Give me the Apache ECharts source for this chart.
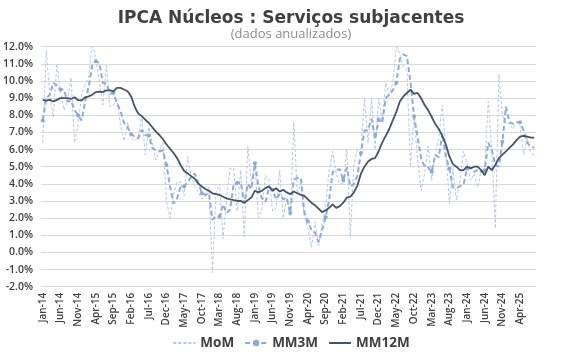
<!DOCTYPE html>
<html>
<head>
<meta charset="utf-8">
<script src="https://cdn.jsdelivr.net/npm/echarts@6/dist/echarts.min.js"></script>
<style>html,body{margin:0;padding:0;background:#fff;}#c{width:582px;height:363px;}</style>
</head>
<body>
<div id="c"></div>
<script>
// Month labels Jan-14 .. Aug-25
const monthNames = ['Jan','Feb','Mar','Apr','May','Jun','Jul','Aug','Sep','Oct','Nov','Dec'];
const firstYear = 14, lastYear = 25, lastMonthIndex = 7;
const categories = [];
for (let y = firstYear; y <= lastYear; y++) {
  for (let m = 0; m < 12; m++) {
    if (y === lastYear && m > lastMonthIndex) break;
    categories.push(monthNames[m] + '-' + y);
  }
}

const mom = [
  6.4, 11.8, 9.2, 7.9, 11.0, 9.4, 8.3, 8.9, 10.2, 6.4, 7.5, 9.2,
  9.8, 10.2, 12.3, 11.3, 10.0, 8.6, 10.9, 8.5, 8.6, 8.9, 7.4, 6.5,
  7.6, 6.7, 6.5, 6.7, 8.0, 5.7, 7.3, 6.4, 5.4, 6.0, 6.4, 3.0,
  2.0, 3.4, 4.1, 4.1, 3.3, 5.6, 4.4, 3.9, 3.5, 3.1, 3.3, 3.8,
  -1.2, 3.5, 4.0, 0.8, 3.2, 4.9, 4.9, 2.4, 4.8, 0.9, 6.2, 4.0,
  5.2, 2.0, 2.5, 4.5, 4.3, 2.4, 2.6, 4.8, 2.0, 3.2, 2.1, 7.6,
  3.4, 4.0, 2.1, 1.4, 0.3, 1.8, 0.4, 1.6, 2.7, 4.8, 5.9, 4.6,
  4.0, 4.0, 6.0, 0.9, 5.2, 6.0, 6.0, 9.0, 6.4, 9.0, 6.0, 9.0,
  7.6, 9.9, 9.2, 9.9, 12.0, 11.6, 10.8, 10.6, 5.0, 8.0, 5.5, 3.6,
  4.6, 6.2, 4.2, 5.8, 6.7, 8.6, 6.0, 2.85, 4.9, 3.05, 4.2, 5.9,
  5.2, 4.2, 4.6, 3.8, 4.8, 5.0, 8.8, 6.0, 1.4, 10.4, 8.0, 7.5,
  7.5, 7.2, 7.6, 7.4, 5.7, 6.7, 5.8, 5.7
];

const mm3m = [
  7.7, 9.0, 9.2, 9.9, 9.75, 9.5, 9.5, 8.8, 8.85, 8.3, 8.0, 7.7,
  8.8, 9.65, 10.9, 11.15, 11.05, 9.9, 9.85, 9.25, 9.3, 8.7, 8.25, 7.55,
  7.3, 6.9, 6.75, 6.65, 7.15, 6.85, 6.8, 6.1, 5.95, 5.9, 5.95, 5.1,
  3.85, 2.85, 3.15, 3.85, 3.85, 4.1, 4.4, 4.6, 4.05, 3.45, 3.35, 3.45,
  1.9, 2.1, 2.1, 2.8, 2.3, 2.5, 4.0, 4.05, 4.1, 2.85, 4.0, 3.7,
  5.2, 3.85, 3.15, 2.95, 3.8, 3.65, 3.1, 3.4, 3.1, 3.2, 2.3, 4.25,
  4.35, 4.35, 2.3, 1.8, 1.3, 1.15, 0.6, 1.3, 2.05, 3.05, 4.7, 4.8,
  4.85, 4.2, 4.95, 3.85, 4.0, 4.5, 5.8, 7.1, 7.15, 7.8, 6.6, 7.75,
  7.55, 9.0, 9.2, 9.45, 9.9, 11.3, 11.55, 11.45, 9.95, 7.95, 6.75, 5.5,
  5.0, 4.95, 4.7, 5.7, 5.55, 6.95, 5.6, 4.9, 3.8, 3.75, 3.85, 3.95,
  4.9, 4.95, 4.7, 4.8, 4.7, 4.8, 6.4, 5.97, 5.1, 5.0, 6.46, 8.5,
  7.6, 7.5, 7.6, 7.6, 7.1, 6.4, 6.2, 6.1
];

const mm12m = [
  8.9, 8.85, 8.9, 8.8, 8.9, 9.0, 9.0, 9.0, 8.95, 9.05, 8.88, 8.87,
  9.05, 9.1, 9.2, 9.35, 9.38, 9.35, 9.45, 9.45, 9.4, 9.6, 9.6, 9.5,
  9.4, 9.1, 8.5, 8.1, 7.95, 7.75, 7.55, 7.3, 7.05, 6.85, 6.6, 6.3,
  6.05, 5.8, 5.5, 5.1, 4.75, 4.6, 4.45, 4.3, 4.0, 3.85, 3.7, 3.6,
  3.45, 3.4, 3.35, 3.25, 3.15, 3.1, 3.05, 3.0, 3.0, 2.9, 3.05, 3.2,
  3.6, 3.5, 3.6, 3.75, 3.85, 3.6, 3.75, 3.55, 3.65, 3.5, 3.4, 3.55,
  3.45, 3.35, 3.3, 3.1, 2.9, 2.75, 2.55, 2.35, 2.45, 2.6, 2.8, 2.6,
  2.7, 2.9, 3.2, 3.25, 3.5, 3.9, 4.6, 5.0, 5.3, 5.45, 5.5, 5.9,
  6.4, 6.8, 7.2, 7.7, 8.2, 8.8, 9.1, 9.3, 9.5, 9.25, 9.3, 9.0,
  8.6, 8.3, 7.9, 7.5, 7.2, 6.8, 6.3, 5.6, 5.15, 5.0, 4.8, 4.8,
  5.0, 4.9, 5.0, 5.0, 4.8, 4.5, 5.0, 4.8, 5.1, 5.5, 5.7, 5.9,
  6.1, 6.3, 6.55, 6.75, 6.8, 6.75, 6.7, 6.7
];

const yTicks = { min: -2, max: 12, step: 1 };
const annotatedMomIndex = 128;

const pct1 = v => v.toFixed(1) + '%';

const momData = mom.map((v, i) => i === annotatedMomIndex ? {
  value: v,
  label: { show: true, position: 'bottom', distance: 4, offset: [6, 0], formatter: p => pct1(p.value),
           fontSize: 9, color: '#404040', fontFamily: 'Open Sans' }
} : v);
const mm3mData = mm3m.map((v, i) => i === mm3m.length - 1 ? {
  value: v,
  label: { show: true, position: 'right', distance: 5, formatter: p => pct1(p.value),
           fontSize: 8, color: '#a6a6a6', fontFamily: 'Open Sans' }
} : v);
const mm12mData = mm12m.map((v, i) => i === mm12m.length - 1 ? {
  value: v,
  label: { show: true, position: 'right', distance: 5, offset: [0, -4], formatter: p => pct1(p.value),
           fontSize: 15, fontWeight: 'bold', color: '#000', fontFamily: 'Open Sans' }
} : v);

const chart = echarts.init(document.getElementById('c'), null, { renderer: 'canvas' });
chart.setOption({
  animation: false,
  backgroundColor: '#fff',
  title: {
    text: 'IPCA Núcleos : Serviços subjacentes',
    subtext: '(dados anualizados)',
    left: 'center', top: 5, itemGap: 1,
    textStyle: { fontFamily: 'DejaVu Sans', fontSize: 17, fontWeight: 'bold', color: '#404040' },
    subtextStyle: { fontFamily: 'Open Sans', fontSize: 13, color: '#8c8c8c' }
  },
  legend: {
    bottom: 8, left: 'center', itemWidth: 22, itemHeight: 8, itemGap: 10,
    textStyle: { fontFamily: 'Open Sans', fontSize: 13.5, fontWeight: 'bold', color: '#404040' },
    data: [
      { name: 'MoM', itemStyle: { opacity: 0 } },
      { name: 'MM3M' },
      { name: 'MM12M', itemStyle: { opacity: 0 } }
    ]
  },
  grid: { left: 40, right: 46, top: 46.7, bottom: 76.3, containLabel: false },
  xAxis: {
    type: 'category', data: categories, boundaryGap: true,
    axisLine: { show: false }, axisTick: { show: false },
    axisLabel: { interval: 4, rotate: 90, fontSize: 10, color: '#404040', fontFamily: 'Open Sans', fontWeight: 600, margin: 6 }
  },
  yAxis: {
    type: 'value', min: yTicks.min, max: yTicks.max, interval: yTicks.step,
    axisLine: { show: false }, axisTick: { show: false },
    axisLabel: { formatter: v => pct1(v), fontSize: 10.5, color: '#404040', fontFamily: 'Open Sans', fontWeight: 600, margin: 8 },
    splitLine: { lineStyle: { color: '#d9d9d9', width: 1.2 } }
  },
  series: [
    { name: 'MoM', type: 'line', data: momData, symbol: 'none', z: 1,
      lineStyle: { color: '#b4c7e7', width: 1, type: [3, 2] }, itemStyle: { color: '#b4c7e7' } },
    { name: 'MM3M', type: 'line', data: mm3mData, symbol: 'circle', symbolSize: 4, z: 2,
      lineStyle: { color: '#8eaadb', width: 2, type: [5, 3] }, itemStyle: { color: '#8eaadb' } },
    { name: 'MM12M', type: 'line', data: mm12mData, symbol: 'none', z: 3,
      lineStyle: { color: '#44546a', width: 1.8 }, itemStyle: { color: '#44546a' } }
  ]
});
</script>
</body>
</html>
